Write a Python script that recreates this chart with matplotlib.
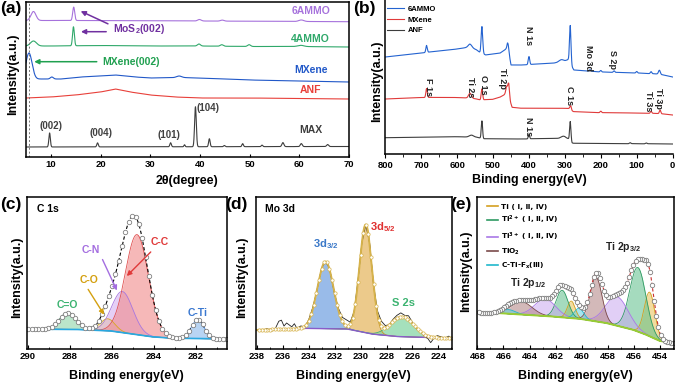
import numpy as np
import matplotlib
matplotlib.use('Agg')
import matplotlib.pyplot as plt
from matplotlib.lines import Line2D
from matplotlib.ticker import MultipleLocator

plt.rcParams['font.family'] = ['Liberation Sans', 'DejaVu Sans', 'Noto Sans CJK SC']
plt.rcParams['font.weight'] = 'bold'
plt.rcParams['axes.labelweight'] = 'bold'
plt.rcParams['mathtext.default'] = 'regular'
plt.rcParams['axes.linewidth'] = 1.1

# ---------------- (a) XRD data ----------------
xrd_names = ['MAX', 'ANF', 'MXene', '4AMMO', '6AMMO']
xrd_colors = ['#3d3d3d', '#e8403a', '#2158c8', '#2fa86a', '#a672dc']
max_bg_x = [5, 70]
max_bg_y = [10, 10.5]
max_pk_pos = [9.75, 19.4, 34.1, 36.9, 39.1, 41.9, 44.9, 48.6, 52.5, 56.7, 60.4, 65.7]
max_pk_h = [14, 4, 4, 2, 40, 8, 1.2, 3, 1.5, 4, 3, 2]
max_pk_w = [0.15, 0.15, 0.15, 0.12, 0.17, 0.15, 0.15, 0.15, 0.15, 0.2, 0.2, 0.2]
anf_bg_x = [5, 10, 15, 20, 23, 26, 30, 35, 40, 50, 60, 70]
anf_bg_y = [59, 60, 62, 65, 68, 65, 62, 60, 59, 59, 58.5, 58]
anf_pk_pos, anf_pk_h, anf_pk_w = [], [], []
mx_bg_x = [5, 8, 12, 16, 20, 23, 27, 30, 36, 40, 50, 60, 70]
mx_bg_y = [78, 78, 78, 80, 81, 82, 80, 79, 79.5, 79, 77, 76, 75]
mx_pk_pos = [5.6, 10.2, 35.8]
mx_pk_h = [26, 2, 1.5]
mx_pk_w = [0.62, 0.3, 0.5]
a4_bg_x = [5, 10, 20, 30, 40, 50, 60, 70]
a4_bg_y = [111, 111, 111.5, 111, 111, 110.5, 110.5, 110]
a4_pk_pos = [6.5, 14.55, 39.8, 44.4, 49.9, 60.3]
a4_pk_h = [5, 19, 2, 1.5, 1.8, 1.2]
a4_pk_w = [0.6, 0.18, 0.3, 0.3, 0.3, 0.6]
a6_bg_x = [5, 20, 40, 70]
a6_bg_y = [136.5, 136.5, 136, 135.3]
a6_pk_pos = [6.5, 14.6, 39.9, 44.5, 60.4]
a6_pk_h = [9, 13.4, 1.5, 1, 1.5]
a6_pk_w = [0.5, 0.2, 0.35, 0.35, 0.5]
xrd_label_y = [27, 67, 87, 118, 146]
hkl_labels = ['(002)', '(004)', '(101)', '(104)']
hkl_x = [10, 20, 33.8, 41.7]
hkl_y = [31, 24.3, 22, 48.7]

# ---------------- (b) XPS survey data ----------------
sv_names = ['6AMMO', 'MXene', 'ANF']
sv_colors = ['#2463d0', '#e03a3a', '#3d3d3d']
b6_bg_x = [800, 700, 600, 565, 545, 535, 520, 480, 468, 460, 454, 450, 420, 330, 300, 288, 282, 275, 200, 100, 40, 0]
b6_bg_y = [97, 101, 105, 107, 104, 101, 99, 101, 104, 106, 96, 89, 89, 91, 93, 95, 88, 84, 82, 81, 80, 77]
b6_pk_pos = [685, 564, 531, 458, 400, 310, 285, 230, 200, 163, 100, 60, 37]
b6_pk_h = [7, 3, 27, 7, 8, 2, 37, 1.5, 1.5, 1.5, 1.5, 2, 4]
b6_pk_w = [2, 5, 2.2, 2.5, 2, 6, 2, 2, 2, 2, 2, 2, 2.5]
bm_bg_x = [800, 700, 600, 570, 545, 535, 500, 480, 465, 458, 452, 447, 420, 300, 288, 280, 275, 200, 100, 40, 0]
bm_bg_y = [55, 56.5, 56.5, 56, 55, 54, 54.7, 57, 60, 62, 52, 46.7, 45.7, 45.7, 45.5, 43, 42.3, 41.3, 41, 40.5, 39]
bm_pk_pos = [685, 564, 531, 462, 456, 284, 200, 60, 35]
bm_pk_h = [9, 5, 11, 7, 11, 4, 1.5, 2, 3.5]
bm_pk_w = [2, 4, 2, 2.5, 2, 2, 2, 2, 2]
ba_bg_x = [800, 600, 545, 525, 420, 320, 300, 288, 280, 275, 0]
ba_bg_y = [16.3, 17.3, 16.7, 15.2, 15, 15.7, 16.5, 15, 11, 10.7, 10]
ba_pk_pos = [560, 531, 400, 305, 285, 118, 73]
ba_pk_h = [2, 17.5, 4.5, 1.5, 19, 1, 0.8]
ba_pk_w = [6, 1.8, 1.8, 5, 1.8, 2, 2]
sv_peak_names = ['F 1s', 'Ti 2s', 'O 1s', 'Ti 2p', 'N 1s', 'C 1s', 'Ti 3s', 'Ti 3p', 'N 1s', 'Mo 3d', 'S 2p']
sv_peak_x = [681, 564, 528, 473, 400, 286, 67, 39, 400, 233, 167]
sv_peak_y = [67, 67, 69, 76, 118, 58, 53, 56, 27, 96, 94]

# ---------------- (c) C 1s data ----------------
c_bg_x = [290.7, 287.5, 286, 285, 284, 283, 280.4]
c_bg_y = [20, 19.5, 18, 15, 12, 10.7, 10]
c_names = ['C=O', 'C-O', 'C-N', 'C-C', 'C-Ti']
c_pos = [288.1, 286.2, 285.5, 284.8, 281.9]
c_h = [16.5, 12, 41, 100, 19]
c_w = [0.4, 0.35, 0.5, 0.55, 0.3]
c_fill = ['#8fd4a8', '#f3cf6a', '#d4b0f0', '#f08a8a', '#8ab8ec']
c_edge = ['#4cb87a', '#d8a820', '#a878e0', '#e05050', '#4a88d8']
c_txt_col = ['#3cb371', '#d4a010', '#a46ee0', '#e03a3a', '#3a78d0']
c_txt_x = [288.1, 287.1, 287.0, 283.7, 281.9]
c_txt_y = [44, 69, 99, 107, 36]

# ---------------- (d) Mo 3d data ----------------
d_bg_x = [238.2, 234, 231, 229, 227, 222.8]
d_bg_y = [19, 20.7, 20, 14.7, 12.3, 10.7]
d_names = ['3d$_{3/2}$', '3d$_{5/2}$', 'S 2s']
d_pos = [232.7, 229.6, 226.8]
d_h = [67, 108, 20]
d_w = [0.62, 0.48, 0.9]
d_fill = ['#6e9fe0', '#e4b45a', '#7fd3a0']
d_edge = ['#3a70c8', '#c89020', '#3cb371']
d_txt_col = ['#3a78c8', '#e03030', '#3cb371']
d_txt_x = [232.7, 228.3, 226.7]
d_txt_y = [105, 122, 46]
raw_x = [238.0, 237.6, 237.2, 236.9, 236.6, 236.3, 236.1, 235.9, 235.7, 235.5, 235.3, 235.1, 234.9,
         234.6, 234.3, 234.0, 233.7, 233.4, 233.0, 232.7, 232.4, 232.0, 231.7, 231.4, 231.1, 230.8,
         230.5, 230.2, 229.9, 229.6, 229.3, 229.0, 228.7, 228.4, 228.1, 227.8, 227.5, 227.2, 226.9,
         226.6, 226.3, 226.0, 225.7, 225.4, 225.1, 224.8, 224.6, 224.4, 224.1, 223.8, 223.5, 223.2, 223.0]
raw_dev = [0, -1, 1, -2, 0, 8, 9, 3, 6, 4, 2, 5, 0,
           2, -1, 1, 2, 0, 1, 0, 1, -1, 2, 4, 6, 2,
           0, 1, 0, 0, 1, -1, 3, 5, 2, 0, 2, 3, 4,
           2, 4, 1, -1, 0, -2, -3, -6, -2, 2, 1, 0, 2, 0]

# ---------------- (e) Ti 2p data ----------------
e_bg_x = [468.2, 466, 464, 462, 460, 458, 456, 455, 454, 452.8]
e_bg_y = [36.7, 35.7, 34, 32.3, 30, 25.7, 19, 14, 8, 5.5]
e_names = ['Ti ( Ⅰ, Ⅱ, Ⅳ)', 'Ti$^{2+}$ ( Ⅰ, Ⅱ, Ⅳ)', 'Ti$^{3+}$ ( Ⅰ, Ⅱ, Ⅳ)', 'TiO$_2$', 'C-Ti-F$_x$(Ⅲ)']
e_pos = [[460.8, 454.8], [461.5, 455.7], [462.8, 457.3], [464.6, 458.9], [465.6, 460.2]]
e_h = [[17, 44], [27, 64], [17, 29], [12.7, 44], [4, 10.5]]
e_w = [[0.3, 0.4], [0.45, 0.62], [0.8, 0.85], [0.8, 0.45], [0.5, 0.35]]
e_fill = ['#e8c050', '#5cbf8a', '#c9a8f0', '#b08080', '#60d0e0']
e_edge = ['#d4a020', '#2e9a62', '#a978e6', '#7a4a4a', '#20b8cc']

W, H = 676, 387
fig = plt.figure(figsize=(W / 100, H / 100), dpi=100)


def axes_px(l, t, r, b):
    return fig.add_axes([l / W, 1 - b / H, (r - l) / W, (b - t) / H])


def gsum(x, pos, h, w):
    y = np.zeros_like(x)
    for p, a, s in zip(pos, h, w):
        y = y + a * np.exp(-(x - p) ** 2 / (2 * s ** 2))
    return y


TICK_FS = 6.8
LAB_FS = 9

# ---------------- panel (a) ----------------
axa = axes_px(26, 1.5, 349, 157)
xa = np.linspace(5, 70, 3000)
xrd_sets = [(max_bg_x, max_bg_y, max_pk_pos, max_pk_h, max_pk_w),
            (anf_bg_x, anf_bg_y, anf_pk_pos, anf_pk_h, anf_pk_w),
            (mx_bg_x, mx_bg_y, mx_pk_pos, mx_pk_h, mx_pk_w),
            (a4_bg_x, a4_bg_y, a4_pk_pos, a4_pk_h, a4_pk_w),
            (a6_bg_x, a6_bg_y, a6_pk_pos, a6_pk_h, a6_pk_w)]
for (bx, by, pp, ph, pw), col, nm, ly in zip(xrd_sets, xrd_colors, xrd_names, xrd_label_y):
    y = np.interp(xa, bx, by) + gsum(xa, pp, ph, pw)
    axa.plot(xa, y, color=col, lw=0.8)
    axa.text(62.3, ly, nm, color=col, fontsize=7.5, ha='center', va='center')
for t, x, y in zip(hkl_labels, hkl_x, hkl_y):
    axa.text(x, y, t, color='#404040', fontsize=7, ha='center', va='center')
axa.axvline(5.7, color='#777777', ls=(0, (2, 2)), lw=0.7)
axa.annotate('', xy=(15.5, 147), xytext=(22, 132),
             arrowprops=dict(arrowstyle='-|>', color='#7030a0', lw=1.1, mutation_scale=7))
axa.annotate('', xy=(15.5, 125.3), xytext=(21.7, 125.3),
             arrowprops=dict(arrowstyle='-|>', color='#7030a0', lw=1.1, mutation_scale=7))
axa.text(22.6, 128.5, 'MoS$_2$(002)', color='#7030a0', fontsize=7.5, ha='left', va='center')
axa.annotate('', xy=(6.1, 95.3), xytext=(19.8, 95.3),
             arrowprops=dict(arrowstyle='-|>', color='#20a050', lw=1.1, mutation_scale=7))
axa.text(20.3, 95.3, 'MXene(002)', color='#20a050', fontsize=7.5, ha='left', va='center')
axa.set_xlim(5, 70)
axa.set_ylim(0, 155.5)
axa.set_yticks([])
axa.set_xticks([10, 20, 30, 40, 50, 60, 70])
axa.tick_params(axis='x', direction='in', length=2.5, labelsize=TICK_FS, pad=2)
axa.set_xlabel('2θ(degree)', fontsize=LAB_FS)
axa.xaxis.set_label_coords(0.5, -0.115)
axa.set_ylabel('Intensity(a.u.)', fontsize=LAB_FS)
axa.yaxis.set_label_coords(-0.021, 0.53)

# ---------------- panel (b) ----------------
axb = axes_px(385.3, 0, 672.7, 154)
xb = np.linspace(0, 800, 4000)
sv_sets = [(b6_bg_x, b6_bg_y, b6_pk_pos, b6_pk_h, b6_pk_w),
           (bm_bg_x, bm_bg_y, bm_pk_pos, bm_pk_h, bm_pk_w),
           (ba_bg_x, ba_bg_y, ba_pk_pos, ba_pk_h, ba_pk_w)]
handles = []
for (bx, by, pp, ph, pw), col, nm in zip(sv_sets, sv_colors, sv_names):
    y = np.interp(xb, bx[::-1], by[::-1]) + gsum(xb, pp, ph, pw)
    ln, = axb.plot(xb, y, color=col, lw=0.8, label=nm)
    handles.append(ln)
for t, x, y in zip(sv_peak_names, sv_peak_x, sv_peak_y):
    axb.text(x, y, t, rotation=-90, fontsize=6.5, ha='center', va='center', color='#222222')
axb.legend(handles=handles, loc='upper left', bbox_to_anchor=(0.005, 0.965), frameon=False,
           fontsize=5.5, handlelength=2.2, handletextpad=0.5, labelspacing=0.45,
           borderpad=0, borderaxespad=0)
axb.spines[['top', 'right']].set_visible(False)
axb.set_xlim(800, 0)
axb.set_ylim(0, 154)
axb.set_yticks([])
axb.set_xticks(range(800, -1, -100))
axb.xaxis.set_minor_locator(MultipleLocator(50))
axb.tick_params(axis='x', which='major', direction='out', length=3, labelsize=TICK_FS, pad=2)
axb.tick_params(axis='x', which='minor', direction='out', length=1.8)
axb.set_xlabel('Binding energy(eV)', fontsize=LAB_FS)
axb.xaxis.set_label_coords(0.5, -0.13)
axb.set_ylabel('Intensity(a.u.)', fontsize=LAB_FS)
axb.yaxis.set_label_coords(-0.007, 0.47)


def style_bottom(ax):
    ax.set_yticks([])
    ax.tick_params(axis='x', which='major', direction='in', length=3, labelsize=TICK_FS, pad=2.5)
    ax.tick_params(axis='x', which='minor', direction='in', length=1.8)
    ax.xaxis.set_major_locator(MultipleLocator(2))
    ax.xaxis.set_minor_locator(MultipleLocator(1))
    ax.set_xlabel('Binding energy(eV)', fontsize=LAB_FS)
    ax.xaxis.set_label_coords(0.5, -0.14)
    ax.set_ylabel('Intensity(a.u.)', fontsize=LAB_FS)
    ax.set_ylim(0, 152)


# ---------------- panel (c) ----------------
axc = axes_px(26.7, 197, 226.7, 349)
xc = np.linspace(280.4, 290.2, 1500)
bgc = np.interp(xc, c_bg_x[::-1], c_bg_y[::-1])
envc = bgc.copy()
for p, hh, ww, fc, ec in zip(c_pos, c_h, c_w, c_fill, c_edge):
    comp = gsum(xc, [p], [hh], [ww])
    envc = envc + comp
    axc.fill_between(xc, bgc, bgc + comp, color=fc, alpha=0.6, lw=0)
    axc.plot(xc, bgc + comp, color=ec, lw=0.6)
axc.plot(xc, bgc, color='#29a8e0', lw=1.2)
axc.plot(xc, envc, color='black', lw=0.8, ls=(0, (3, 2)))
mk = np.arange(280.55, 290.05, 0.16)
axc.plot(mk, np.interp(mk, xc, envc), ls='none', marker='o', ms=3.2, mfc='white', mec='#808080', mew=0.6)
for t, x, y, col in zip(c_names, c_txt_x, c_txt_y, c_txt_col):
    axc.text(x, y, t, color=col, fontsize=7.5, ha='center', va='center')
axc.annotate('', xy=(285.38, 71), xytext=(284.05, 99),
             arrowprops=dict(arrowstyle='-|>', color='#e03a3a', lw=1.0, mutation_scale=7))
axc.annotate('', xy=(285.7, 56), xytext=(286.5, 92),
             arrowprops=dict(arrowstyle='-|>', color='#a46ee0', lw=1.0, mutation_scale=7))
axc.annotate('', xy=(286.3, 32), xytext=(287.2, 62),
             arrowprops=dict(arrowstyle='-|>', color='#d4a010', lw=1.0, mutation_scale=7))
axc.text(0.05, 0.955, 'C 1s', transform=axc.transAxes, fontsize=7.5, ha='left', va='top')
axc.set_xlim(290.06, 280.52)
style_bottom(axc)
axc.yaxis.set_label_coords(-0.02, 0.47)

# ---------------- panel (d) ----------------
axd = axes_px(255.7, 197, 451.7, 349)
xd = np.linspace(222.8, 238.2, 1500)
bgd = np.interp(xd, d_bg_x[::-1], d_bg_y[::-1])
envd = bgd.copy()
for p, hh, ww, fc, ec in zip(d_pos, d_h, d_w, d_fill, d_edge):
    comp = gsum(xd, [p], [hh], [ww])
    envd = envd + comp
    axd.fill_between(xd, bgd, bgd + comp, color=fc, alpha=0.7, lw=0)
    axd.plot(xd, bgd + comp, color=ec, lw=0.6)
axd.plot(xd, bgd, color='#8a5cc8', lw=1.0)
rx = np.array(raw_x)
axd.plot(rx, np.interp(rx, xd, envd) + np.array(raw_dev), color='#222222', lw=0.6)
axd.plot(xd, envd, color='#d6b24a', lw=1.4)
mkd = np.arange(223.0, 238.0, 0.2)
axd.plot(mkd, np.interp(mkd, xd, envd), ls='none', marker='o', ms=2.4, mfc='white', mec='#d6b24a', mew=0.5)
for t, x, y, col in zip(d_names, d_txt_x, d_txt_y, d_txt_col):
    axd.text(x, y, t, color=col, fontsize=8, ha='center', va='center')
axd.text(0.046, 0.955, 'Mo 3d', transform=axd.transAxes, fontsize=7.5, ha='left', va='top')
axd.set_xlim(238.08, 222.98)
style_bottom(axd)
axd.yaxis.set_label_coords(-0.041, 0.47)

# ---------------- panel (e) ----------------
axe = axes_px(476.7, 197, 674, 349)
xe = np.linspace(452.7, 468.3, 1500)
bge = np.interp(xe, e_bg_x[::-1], e_bg_y[::-1])
enve = bge.copy()
leg_h = []
for nm, pp, hh, ww, fc, ec in zip(e_names, e_pos, e_h, e_w, e_fill, e_edge):
    for p, a, s in zip(pp, hh, ww):
        comp = gsum(xe, [p], [a], [s])
        enve = enve + comp
        axe.fill_between(xe, bge, bge + comp, color=fc, alpha=0.55, lw=0)
        axe.plot(xe, bge + comp, color=ec, lw=0.6)
    leg_h.append(Line2D([0], [0], color=ec, lw=1.2, label=nm))
axe.plot(xe, bge, color='#9acd32', lw=1.4)
axe.plot(xe, enve, color='#c83030', lw=0.8, ls=(0, (3, 2)))
mke = np.arange(453.0, 468.0, 0.16)
axe.plot(mke, np.interp(mke, xe, enve), ls='none', marker='o', ms=3.2, mfc='white', mec='#808080', mew=0.6)
axe.legend(handles=leg_h, loc='upper left', bbox_to_anchor=(0.05, 0.955), frameon=False,
           prop=dict(family=['DejaVu Sans', 'Noto Sans CJK SC'], weight='bold', size=5.3),
           handlelength=1.5, handletextpad=0.5, labelspacing=0.55,
           borderpad=0, borderaxespad=0)
axe.text(456.8, 102, 'Ti 2p$_{3/2}$', fontsize=7.5, ha='center', va='center', color='#222222')
axe.text(464.1, 66, 'Ti 2p$_{1/2}$', fontsize=7.5, ha='center', va='center', color='#222222')
axe.set_xlim(468.05, 452.93)
style_bottom(axe)
axe.yaxis.set_label_coords(-0.023, 0.51)

# panel letters
for t, x, y in [('(a)', 0, 1), ('(b)', 353, 1), ('(c)', 0, 197), ('(d)', 225, 197), ('(e)', 450, 197)]:
    fig.text(x / W, 1 - y / H, t, fontsize=12.5, ha='left', va='top')

fig.savefig('out.png', dpi=100)
